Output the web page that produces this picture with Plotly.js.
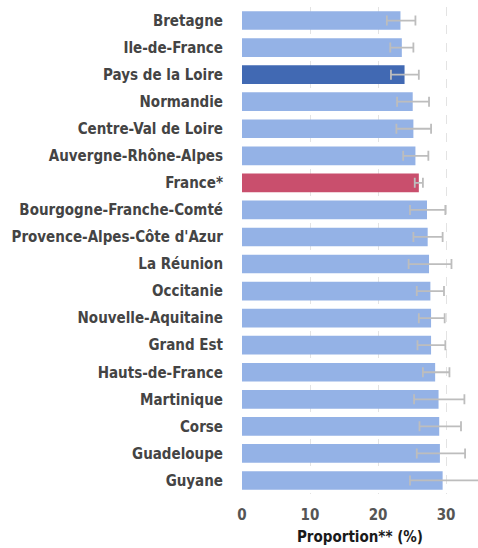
<!DOCTYPE html>
<html><head><meta charset="utf-8">
<script src="https://cdn.plot.ly/plotly-3.0.1.min.js"></script>
<style>body{margin:0;background:#fff}#chart{width:478px;height:548px}</style>
</head><body><div id="chart"></div>
<script>
const regions = ["Bretagne","Ile-de-France","Pays de la Loire","Normandie","Centre-Val de Loire","Auvergne-Rhône-Alpes","France*","Bourgogne-Franche-Comté","Provence-Alpes-Côte d'Azur","La Réunion","Occitanie","Nouvelle-Aquitaine","Grand Est","Hauts-de-France","Martinique","Corse","Guadeloupe","Guyane"];
const proportion = [23.3,23.5,23.9,25.1,25.2,25.5,26.0,27.2,27.3,27.5,27.7,27.8,27.8,28.4,28.9,29.0,29.1,29.5];
const lowerCI = [21.3,21.8,21.9,22.8,22.7,23.7,25.4,24.7,25.2,24.5,25.7,26.0,25.8,26.6,25.3,26.1,25.7,24.7];
const upperCI = [25.5,25.2,26.0,27.5,27.8,27.4,26.6,29.9,29.5,30.8,29.7,29.8,29.9,30.5,32.7,32.2,32.8,35.5];
const tickValues = [0,10,20,30];

const colors = regions.map(r => r === "France*" ? "#C94F6D" : (r === "Pays de la Loire" ? "#4169B3" : "#94B2E6"));

const trace = {
  type: "bar", orientation: "h",
  y: regions, x: proportion,
  marker: {color: colors},
  error_x: {
    type: "data", symmetric: false,
    array: upperCI.map((u,i) => u - proportion[i]),
    arrayminus: proportion.map((p,i) => p - lowerCI[i]),
    color: "#BDBDBD", thickness: 1.8, width: 5
  },
  hoverinfo: "none"
};

const layout = {
  width: 478, height: 548,
  margin: {l: 242, r: 0, t: 7, b: 54},
  paper_bgcolor: "#fff", plot_bgcolor: "#fff",
  bargap: 0.31,
  showlegend: false,
  xaxis: {
    range: [0, 34.7], tickvals: tickValues, ticktext: tickValues.map(String),
    showgrid: true, gridcolor: "#E3E3E3", griddash: "dash", gridwidth: 1,
    zeroline: false, showline: false, ticks: "",
    ticklabelstandoff: 10,
    tickfont: {family: "DejaVu Sans Condensed, DejaVu Sans", size: 15, color: "#555", weight: "bold"},
    title: {text: "Proportion** (%)", font: {family: "DejaVu Sans Condensed, DejaVu Sans", size: 15, color: "#1a1a1a", weight: "bold"}, standoff: 8}
  },
  yaxis: {
    autorange: "reversed", showgrid: false, zeroline: false, showline: false, ticks: "",
    ticklabelstandoff: 18,
    tickfont: {family: "DejaVu Sans Condensed, DejaVu Sans", size: 15, color: "#444", weight: "bold"}
  }
};

Plotly.newPlot("chart", [trace], layout, {staticPlot: true, displayModeBar: false});
</script>
</body></html>
